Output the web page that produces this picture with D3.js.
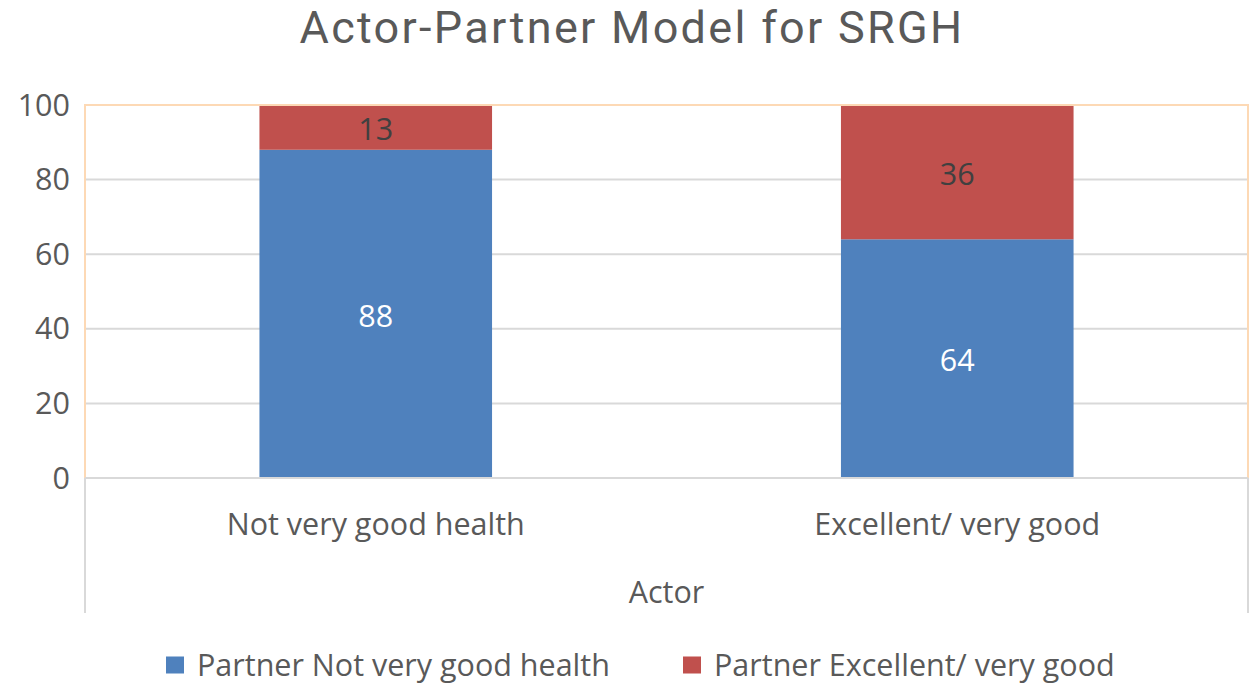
<!DOCTYPE html>
<html><head><meta charset="utf-8">
<script src="https://cdn.jsdelivr.net/npm/d3@7"></script>
<style>body{margin:0;background:#fff}svg{display:block;font-family:"Open Sans",Lato,sans-serif}</style>
</head><body>
<svg id="c" width="1256" height="687"></svg>
<script>
const title = "Actor-Partner Model for SRGH";
const categories = ["Not very good health", "Excellent/ very good"];
const seriesNames = ["Partner Not very good health", "Partner Excellent/ very good"];
const partnerNotVeryGood = [88, 64];
const partnerExcellent = [13, 36];
const yTicks = [0, 20, 40, 60, 80, 100];
const axisTitle = "Actor";
const colors = ["#4f81bd", "#c0504d"];
const labelColors = ["#ffffff", "#404040"];

const svg = d3.select("#c");
const L = 85, R = 1248, T = 105, B = 478;
const FS = 30.5;
const x = d3.scaleBand().domain(categories).range([L, R]).paddingInner(0.6).paddingOuter(0.3);
const y = d3.scaleLinear().domain([0, 100]).range([B, T]);

const rows = categories.map((c, i) => ({cat: c, s0: partnerNotVeryGood[i], s1: partnerExcellent[i]}));
const stack = d3.stack().keys(["s0", "s1"])(rows);

// gridlines
svg.append("g").selectAll("line").data(yTicks.filter(t => t > 0)).join("line")
  .attr("x1", L).attr("x2", R).attr("y1", d => y(d)).attr("y2", d => y(d))
  .attr("stroke", "#d9d9d9").attr("stroke-width", 2);

// bars
svg.append("defs").append("clipPath").attr("id", "clip").append("rect")
  .attr("x", L).attr("y", T).attr("width", R - L).attr("height", B - T);
const gBars = svg.append("g").attr("clip-path", "url(#clip)");
stack.forEach((layer, k) => {
  gBars.selectAll(null).data(layer).join("rect")
    .attr("x", d => x(d.data.cat)).attr("width", x.bandwidth())
    .attr("y", d => y(Math.min(d[1], 100))).attr("height", d => y(d[0]) - y(Math.min(d[1], 100)))
    .attr("fill", colors[k]);
});
stack.forEach((layer, k) => {
  svg.append("g").selectAll("text").data(layer).join("text")
    .attr("x", d => x(d.data.cat) + x.bandwidth() / 2)
    .attr("y", d => (y(d[0]) + y(Math.min(d[1], 100))) / 2 + 2)
    .attr("dy", "0.35em").attr("text-anchor", "middle")
    .attr("font-size", FS).attr("fill", labelColors[k])
    .text(d => d[1] - d[0]);
});

// plot area border (orange) left, top, right
svg.append("path").attr("d", `M${L},${B}V${T}H${R}V${B}`)
  .attr("fill", "none").attr("stroke", "#fdd9b5").attr("stroke-width", 2);
// category axis line + box verticals
svg.append("line").attr("x1", L).attr("x2", R).attr("y1", B).attr("y2", B)
  .attr("stroke", "#d9d9d9").attr("stroke-width", 2);
svg.append("line").attr("x1", L).attr("x2", L).attr("y1", B).attr("y2", 613)
  .attr("stroke", "#d9d9d9").attr("stroke-width", 2);
svg.append("line").attr("x1", R).attr("x2", R).attr("y1", B).attr("y2", 613)
  .attr("stroke", "#d9d9d9").attr("stroke-width", 2);

// y tick labels
svg.append("g").selectAll("text").data(yTicks).join("text")
  .attr("x", 70).attr("y", d => y(d)).attr("dy", "0.35em").attr("text-anchor", "end")
  .attr("font-size", FS).attr("fill", "#595959").text(d => d);

// category labels
svg.append("g").selectAll("text").data(categories).join("text")
  .attr("x", d => x(d) + x.bandwidth() / 2).attr("y", 524).attr("dy", "0.35em")
  .attr("text-anchor", "middle").attr("font-size", FS).attr("fill", "#595959").text(d => d);

svg.append("text").attr("x", (L + R) / 2).attr("y", 592).attr("dy", "0.35em")
  .attr("text-anchor", "middle").attr("font-size", FS).attr("fill", "#595959").text(axisTitle);

svg.append("text").attr("x", 632).attr("y", 43)
  .attr("text-anchor", "middle").attr("font-family", "Roboto, 'Open Sans', sans-serif")
  .attr("font-size", 45).attr("letter-spacing", 2.3).attr("fill", "#595959").text(title);

// legend
const legX = [166, 683];
const lg = svg.append("g").selectAll("g").data(seriesNames).join("g")
  .attr("transform", (d, i) => `translate(${legX[i]},665)`);
lg.append("rect").attr("x", 0).attr("y", -8.5).attr("width", 18).attr("height", 17)
  .attr("fill", (d, i) => colors[i]);
lg.append("text").attr("x", 31).attr("dy", "0.35em").attr("font-size", FS)
  .attr("fill", "#595959").text(d => d);
</script>
</body></html>
